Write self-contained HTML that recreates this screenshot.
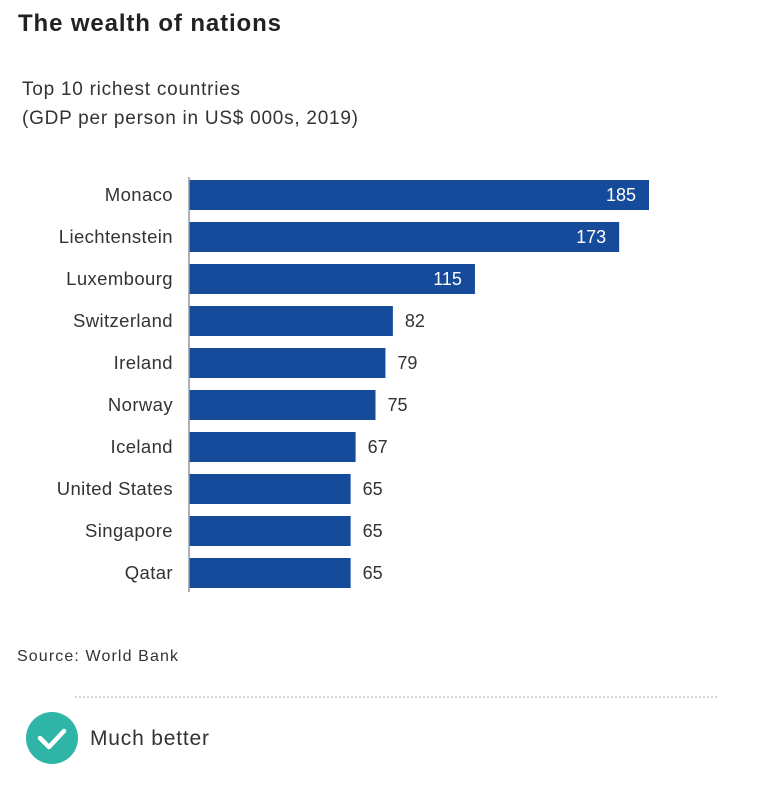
<!DOCTYPE html>
<html><head><meta charset="utf-8"><style>
body{margin:0;background:#fff;font-family:"Liberation Sans",sans-serif;}
#wrap{position:relative;width:765px;height:787px;overflow:hidden;}
</style></head><body>
<div id="wrap">
<svg id="chart" width="765" height="787">
<text x="18" y="31" font-size="24" font-weight="bold" fill="#222" textLength="263">The wealth of nations</text>
<text x="22" y="95" font-size="19" fill="#333" textLength="218">Top 10 richest countries</text>
<text x="22" y="124" font-size="19" fill="#333" textLength="336">(GDP per person in US$ 000s, 2019)</text>
<g id="bars"></g>
<line x1="189" y1="177" x2="189" y2="592" stroke="#999" stroke-width="1.5"/>
<text x="17" y="661" font-size="16" fill="#333" textLength="161">Source: World Bank</text>
<line x1="75" y1="697" x2="718" y2="697" stroke="#aaa" stroke-width="1" stroke-dasharray="2,2"/>
<circle cx="52" cy="738" r="26" fill="#2fb5a8"/>
<path d="M40 738 L49 747 L64 731" stroke="#fff" stroke-width="4.5" fill="none" stroke-linecap="round" stroke-linejoin="round"/>
<text x="90" y="745" font-size="21" fill="#333" textLength="119">Much better</text>
</svg>
</div>
<script>
const countries=["Monaco","Liechtenstein","Luxembourg","Switzerland","Ireland","Norway","Iceland","United States","Singapore","Qatar"];
const values=[185,173,115,82,79,75,67,65,65,65];
const valueLabels=["185","173","115","82","79","75","67","65","65","65"];
const x0=189, scaleX=v=>x0+v*460/185;
const rowY=i=>180+i*42;
const g=document.getElementById('bars');
const NS='http://www.w3.org/2000/svg';
countries.forEach((c,i)=>{
  const y=rowY(i), w=scaleX(values[i])-x0;
  const r=document.createElementNS(NS,'rect');
  r.setAttribute('x',x0);r.setAttribute('y',y);r.setAttribute('width',w);r.setAttribute('height',30);r.setAttribute('fill','#164a9b');
  
  
  g.appendChild(r);
  const t=document.createElementNS(NS,'text');
  t.setAttribute('x',173);t.setAttribute('y',y+21);t.setAttribute('text-anchor','end');t.setAttribute('font-size','18.5');t.setAttribute('fill','#333');
  t.setAttribute('letter-spacing','0.4');
  t.textContent=c;
  
  
  g.appendChild(t);
  const v=document.createElementNS(NS,'text');
  const inside=values[i]>100;
  v.setAttribute('x',inside?scaleX(values[i])-13:scaleX(values[i])+12);
  v.setAttribute('y',y+21);
  v.setAttribute('text-anchor',inside?'end':'start');
  v.setAttribute('font-size','18');
  v.setAttribute('fill',inside?'#fff':'#333');
  v.textContent=valueLabels[i];
  
  
  g.appendChild(v);
});
</script>
</body></html>
